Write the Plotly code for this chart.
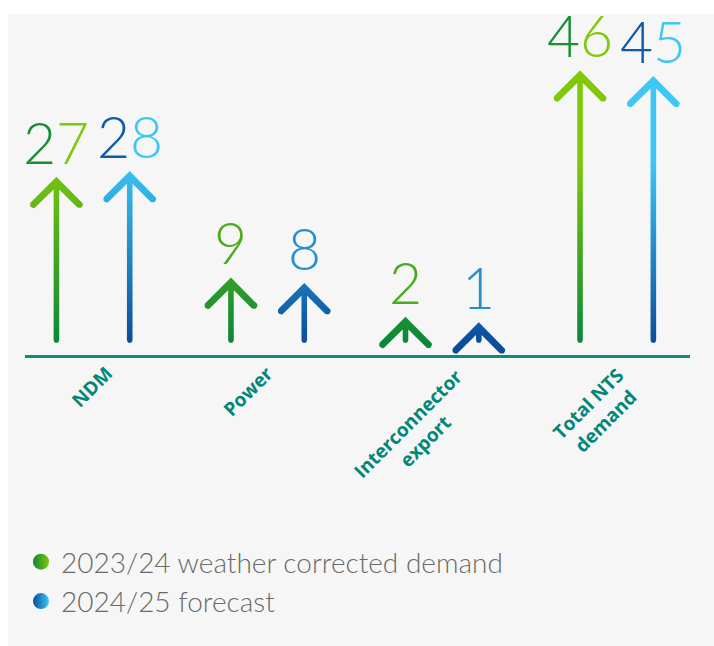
import math
import plotly.graph_objects as go

# ---------------- data ----------------
categories = ["NDM", "Power", "Interconnector<br>export", "Total NTS<br>demand"]
series_names = ["2023/24 weather corrected demand", "2024/25 forecast"]
demand_2324 = [27, 9, 2, 46]
forecast_2425 = [28, 8, 1, 45]

# ---------------- layout constants ----------------
W, H = 714, 646
ML, MR, MT, MB = 25, 24, 14, 291
XR = [-0.39, 3.42]
YR = [-4.84, 56.05]
ARROW_BASE = -2.7
GRAD_STOP = 30
OFFSET = 0.21
pw = W - ML - MR
ph = H - MT - MB
kx = pw / (XR[1] - XR[0])
ky = ph / (YR[1] - YR[0])

styles = [
    dict(dark="#0a873a", light="#80c80a"),
    dict(dark="#0a4c9c", light="#3cc8f6"),
]
TEAL = "#0e8a7e"
LABEL_COLOR = "#00877a"
NUM_FONT = "Lato"
label_nudge = [27, 14, 46, 33]   # px, right edge of rotated label relative to tick
label_lift = [10, 10, 7, 8]


def hex2rgb(h):
    h = h.lstrip("#")
    return tuple(int(h[i:i + 2], 16) for i in (0, 2, 4))


def mix(c0, c1, t):
    a, b = hex2rgb(c0), hex2rgb(c1)
    t = max(0.0, min(1.0, t))
    return "#%02x%02x%02x" % tuple(round(a[i] + (b[i] - a[i]) * t) for i in range(3))


def arrow_poly(cx, top, base, a=23.0, w=7.0, s=2.8, n=8):
    """Arrow outline in pixel offsets (y up, tip at 0), converted to data."""
    h = w / 2
    r2 = math.sqrt(2)
    Bp = (base - top) * ky
    yC = -h * r2
    yI = -2 * h * r2
    pts = [(0.0, 0.0)]
    Rx, Ry = a, yC - a
    for i in range(n + 1):
        ang = math.radians(45 - 180 * i / n)
        pts.append((Rx + h * math.cos(ang), Ry + h * math.sin(ang)))
    pts.append((s, yI - s))
    for i in range(n + 1):
        ang = math.radians(0 - 180 * i / n)
        pts.append((s * math.cos(ang), Bp + s + s * math.sin(ang)))
    pts.append((-s, yI - s))
    Lx, Ly = -a, yC - a
    for i in range(n + 1):
        ang = math.radians(-45 - 180 * i / n)
        pts.append((Lx + h * math.cos(ang), Ly + h * math.sin(ang)))
    pts.append((0.0, 0.0))
    xs = [cx + px / kx for px, py in pts]
    ys = [top + py / ky for px, py in pts]
    return xs, ys


fig = go.Figure()
annotations = []

for si, (vals, st) in enumerate(zip([demand_2324, forecast_2425], styles)):
    off = -OFFSET if si == 0 else OFFSET
    for ci, v in enumerate(vals):
        cx = ci + off
        xs, ys = arrow_poly(cx, v, ARROW_BASE)
        fig.add_trace(go.Scatter(
            x=xs, y=ys, mode="lines", line=dict(width=0, color=st["dark"]),
            fill="toself",
            fillgradient=dict(type="vertical",
                              colorscale=[[0, st["dark"]], [1, st["light"]]],
                              start=ARROW_BASE, stop=GRAD_STOP),
            hoverinfo="skip", showlegend=False,
        ))
        txt = str(v)
        if len(txt) == 1:
            cols = [mix(st["dark"], st["light"], 0.55)]
        else:
            cols = [mix(st["dark"], st["light"], 0.12 + 0.88 * k / (len(txt) - 1))
                    for k in range(len(txt))]
        html = "".join('<span style="color:%s">%s</span>' % (c, ch)
                       for c, ch in zip(cols, txt))
        annotations.append(dict(
            x=cx, y=v, xref="x", yref="y", text=html, showarrow=False,
            xanchor="center", yanchor="bottom", yshift=-1,
            font=dict(family=NUM_FONT, size=57, weight=300, color=cols[0]),
        ))

for ci, cat in enumerate(categories):
    annotations.append(dict(
        x=ci, y=(ph - (368 - MT)) / ph, xref="x", yref="paper",
        text=cat, showarrow=False, textangle=-45, align="center",
        xanchor="right", yanchor="top", xshift=label_nudge[ci], yshift=label_lift[ci],
        font=dict(family="Open Sans", size=19, weight=700, color=LABEL_COLOR),
    ))

for si, (name, st) in enumerate(zip(series_names, styles)):
    fig.add_trace(go.Scatter(
        x=[None], y=[None], mode="markers", name=name, legendgroup="g%d" % si,
        marker=dict(size=17, symbol="circle", color=st["dark"],
                    gradient=dict(type="horizontal", color=st["light"])),
    ))

shapes = [
    dict(type="rect", xref="paper", yref="paper", x0=-0.2, x1=1.2, y0=1, y1=1.3,
         fillcolor="white", line=dict(width=0), layer="below"),
    dict(type="rect", xref="paper", yref="paper", x0=-0.2, x1=(8 - ML) / pw,
         y0=-1.5, y1=1.3, fillcolor="white", line=dict(width=0), layer="below"),
]

fig.update_layout(
    width=W, height=H,
    margin=dict(l=ML, r=MR, t=MT, b=MB),
    paper_bgcolor="#f6f6f6", plot_bgcolor="#f6f6f6",
    xaxis=dict(range=XR, showgrid=False, zeroline=False, showticklabels=False,
               ticks="", showline=True, linecolor=TEAL, linewidth=3, fixedrange=True),
    yaxis=dict(range=YR, showgrid=False, zeroline=False, showticklabels=False,
               ticks="", showline=False, fixedrange=True),
    annotations=annotations,
    shapes=shapes,
    showlegend=True,
    legend=dict(x=(21 - ML) / pw, y=(ph - (537 - MT)) / ph, xanchor="left", yanchor="top",
                bgcolor="rgba(0,0,0,0)", tracegroupgap=0,
                font=dict(family="Lato", size=28, weight=300, color="#6a6a6a")),
)

fig.write_html("out.html")
